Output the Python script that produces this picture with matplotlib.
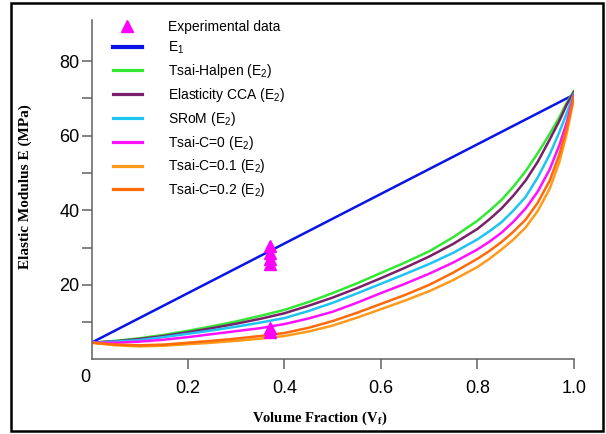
import matplotlib
matplotlib.use("Agg")
import matplotlib.pyplot as plt
from matplotlib.patches import Rectangle

plt.rcParams['font.family'] = ['Liberation Sans', 'DejaVu Sans']
plt.rcParams['mathtext.fontset'] = 'custom'
plt.rcParams['mathtext.rm'] = 'Liberation Sans'
plt.rcParams['mathtext.bf'] = 'Liberation Serif:bold'

# volume fraction grid
vf = [0, 0.05, 0.1, 0.15, 0.2, 0.25, 0.3, 0.35, 0.4, 0.45, 0.5, 0.55, 0.6, 0.65,
      0.7, 0.75, 0.8, 0.825, 0.85, 0.875, 0.9, 0.925, 0.95, 0.97, 0.985, 1.0]

e1_vf = [0, 1.0]
e1 = [4.5, 71.0]

halpen = [4.5, 5.0, 5.7, 6.6, 7.7, 8.9, 10.2, 11.7, 13.3, 15.4, 17.8, 20.4, 23.2,
          26.0, 29.0, 32.8, 37.2, 39.9, 42.8, 46.4, 50.5, 55.3, 60.5, 65.0, 68.8, 72.0]
cca = [4.5, 4.9, 5.5, 6.3, 7.3, 8.4, 9.6, 10.9, 12.4, 14.4, 16.6, 19.1, 21.8,
       24.6, 27.6, 31.0, 35.0, 37.6, 40.5, 44.0, 48.0, 53.0, 59.0, 64.0, 68.3, 71.7]
srom = [4.5, 4.8, 5.2, 6.0, 6.9, 7.8, 8.8, 9.9, 11.1, 13.0, 15.2, 17.7, 20.3,
        22.9, 25.6, 28.6, 32.2, 34.4, 36.8, 40.0, 43.6, 48.8, 55.0, 61.0, 66.0, 71.2]
tsai_c0 = [4.5, 4.5, 4.8, 5.3, 6.0, 6.8, 7.6, 8.4, 9.5, 11.0, 12.8, 15.2, 17.8,
           20.3, 23.0, 26.0, 29.5, 31.6, 34.0, 37.0, 40.5, 45.0, 51.0, 57.5, 63.5, 70.8]
tsai_c01 = [4.5, 3.8, 3.5, 3.7, 4.1, 4.5, 5.0, 5.6, 6.3, 7.5, 9.1, 11.2, 13.5,
            15.8, 18.3, 21.3, 24.8, 27.0, 29.5, 32.2, 35.4, 39.8, 45.8, 53.0, 60.5, 70.0]
tsai_c02 = [4.5, 4.0, 3.8, 4.0, 4.5, 5.0, 5.6, 6.3, 7.1, 8.5, 10.3, 12.5, 14.9,
            17.3, 20.0, 23.3, 27.0, 29.1, 31.5, 34.3, 37.5, 42.0, 48.0, 55.0, 62.0, 70.4]

exp_vf = [0.37, 0.37, 0.37, 0.37, 0.37, 0.37]
exp_e = [30.5, 28.5, 27.0, 25.5, 8.5, 7.5]

fig = plt.figure(figsize=(6.06, 4.34), dpi=100)
ax = fig.add_axes([0.151, 0.1717, 0.796, 0.782])

lw = 1.8
ax.plot(exp_vf, exp_e, linestyle='none', marker='^', markersize=9,
        color='#ff00ff', label='Experimental data', zorder=5)
ax.plot(e1_vf, e1, color='#0a14e6', lw=lw, label=r'E$_\mathrm{1}$')
ax.plot(vf, halpen, color='#33e833', lw=lw, label=r'Tsai-Halpen (E$_\mathrm{2}$)')
ax.plot(vf, cca, color='#7a1f6a', lw=lw, label=r'Elasticity CCA (E$_\mathrm{2}$)')
ax.plot(vf, srom, color='#1ec4f2', lw=lw, label=r'SRoM (E$_\mathrm{2}$)')
ax.plot(vf, tsai_c0, color='#ff10ff', lw=lw, label=r'Tsai-C=0 (E$_\mathrm{2}$)')
ax.plot(vf, tsai_c01, color='#ff9a1a', lw=lw, label=r'Tsai-C=0.1 (E$_\mathrm{2}$)')
ax.plot(vf, tsai_c02, color='#ff6a0a', lw=lw, label=r'Tsai-C=0.2 (E$_\mathrm{2}$)')

ax.set_xlim(0, 1.0)
ax.set_ylim(0, 91)
ax.spines['top'].set_visible(False)
ax.spines['right'].set_visible(False)
for s in ['left', 'bottom']:
    ax.spines[s].set_color('#606060')
    ax.spines[s].set_linewidth(1.1)

ax.set_xticks([0.2, 0.4, 0.6, 0.8, 1.0])
ax.set_xticklabels(['0.2', '0.4', '0.6', '0.8', '1.0'])
ax.set_yticks([20, 40, 60, 80])
ax.set_yticks([10, 30, 50, 70], minor=True)
ax.tick_params(axis='x', which='major', length=7.5, width=1.1, color='#606060',
               labelsize=13, pad=7)
ax.tick_params(axis='y', which='both', length=7.5, width=1.1, color='#606060',
               labelsize=13, pad=1)
ax.text(-0.012, -0.052, '0', transform=ax.transAxes, ha='center', va='center', fontsize=13)

ax.set_xlabel(r'Volume Fraction (V$_\mathbf{f}$)', fontsize=10.5,
              family='Liberation Serif', fontweight='bold')
ax.xaxis.set_label_coords(0.473, -0.149)
ax.set_ylabel('Elastic Modulus E (MPa)', fontsize=11,
              family='Liberation Serif', fontweight='bold')
ax.yaxis.set_label_coords(-0.123, 0.51)

leg = ax.legend(loc='upper left', bbox_to_anchor=(0.044, 1.0), frameon=False,
                fontsize=10, handlelength=2.1, handletextpad=1.9,
                labelspacing=0.42, borderpad=0, borderaxespad=0)
for i, line in enumerate(leg.get_lines()):
    if i == 1:
        line.set_linewidth(3.0)
    elif i > 1:
        line.set_linewidth(2.3)

# outer frame of the figure
fig.add_artist(Rectangle((0.018, 0.007), 0.977, 0.986, transform=fig.transFigure,
                         facecolor='none', edgecolor='black', lw=1.8))

fig.savefig('out.png', dpi=100)
